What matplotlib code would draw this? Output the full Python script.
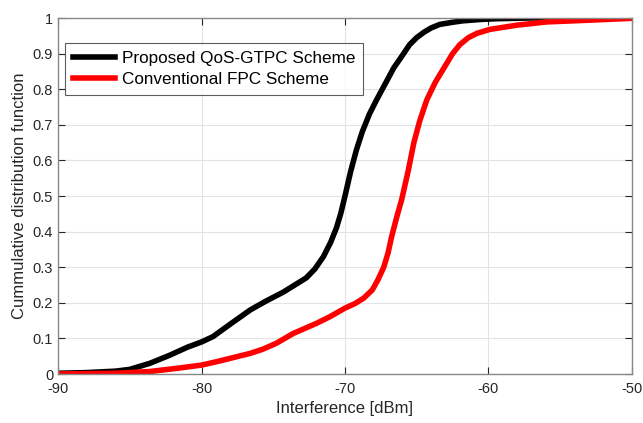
import numpy as np
import matplotlib.pyplot as plt

plt.rcParams['font.family'] = ['Liberation Sans', 'DejaVu Sans']
plt.rcParams['axes.unicode_minus'] = False

# Proposed QoS-GTPC Scheme (black)
x_prop = [-90, -88, -86, -85, -83.6, -82.2, -81, -80, -79.2, -78, -76.6, -75.5, -74.3,
          -73.5, -72.7, -72.1, -71.5, -71.0, -70.6, -70.3, -70.0, -69.6, -69.2, -68.8, -68.3,
          -67.8, -67.2, -66.6, -66.0, -65.5, -65.0, -64.5, -64.0, -63.4, -62.5, -61.8, -60.5,
          -59.4, -57.1, -55, -52.8]
y_prop = [0.002, 0.004, 0.008, 0.013, 0.03, 0.053, 0.075, 0.09, 0.105, 0.14, 0.18, 0.205, 0.23,
          0.25, 0.27, 0.295, 0.33, 0.37, 0.41, 0.45, 0.50, 0.57, 0.63, 0.68, 0.73,
          0.77, 0.815, 0.86, 0.895, 0.925, 0.945, 0.96, 0.972, 0.982, 0.988, 0.992, 0.996,
          0.998, 1.0, 1.0, 1.0]

# Conventional FPC Scheme (red)
x_conv = [-90, -88, -85.9, -83.6, -81.7, -80, -78.9, -77.7, -76.6, -75.7, -74.8, -73.6, -72,
          -71.05, -70.0, -69.3, -68.7, -68.1, -67.7, -67.3, -67.0, -66.75, -66.4, -66.05, -65.6,
          -65.2, -64.8, -64.3, -63.7, -63.1, -62.5, -62.0, -61.4, -60.8, -59.9, -58, -55.95,
          -52.9, -50.1]
y_conv = [0.0, 0.001, 0.002, 0.007, 0.016, 0.025, 0.035, 0.047, 0.058, 0.07, 0.086, 0.114, 0.142,
          0.161, 0.185, 0.198, 0.213, 0.236, 0.265, 0.30, 0.34, 0.386, 0.44, 0.49, 0.57,
          0.65, 0.71, 0.77, 0.82, 0.86, 0.90, 0.925, 0.945, 0.957, 0.968, 0.98, 0.989,
          0.994, 0.999]

fig = plt.figure(figsize=(6.43, 4.23), dpi=100)
ax = fig.add_axes([58 / 643, 1 - 374 / 423, (632 - 58) / 643, (374 - 18) / 423])

ax.plot(x_prop, y_prop, color='black', lw=4, label='Proposed QoS-GTPC Scheme')
ax.plot(x_conv, y_conv, color='red', lw=4, label='Conventional FPC Scheme')

ax.set_xlim(-90, -50)
ax.set_ylim(0, 1)
ax.set_xticks(np.arange(-90, -49, 10))
ax.set_yticks(np.arange(0, 1.01, 0.1))
ax.set_yticklabels(['0', '0.1', '0.2', '0.3', '0.4', '0.5', '0.6', '0.7', '0.8', '0.9', '1'])
ax.grid(True, color='#e3e3e3', lw=0.8)
ax.set_axisbelow(True)
ax.tick_params(direction='in', top=True, right=True, labelsize=10.5, colors='#262626',
               length=5, width=0.8)
ax.tick_params(axis='x', pad=6)
for s in ax.spines.values():
    s.set_color('#888888')
    s.set_linewidth(1.0)

ax.set_xlabel('Interference [dBm]', fontsize=12, color='#262626', labelpad=3)
ax.set_ylabel('Cummulative distribution function', fontsize=12, color='#262626', labelpad=4)

leg = ax.legend(loc='upper left', bbox_to_anchor=(0.012, 0.93), fontsize=12.3, frameon=True,
                fancybox=False, edgecolor='#333333', handlelength=2.5, borderpad=0.45,
                labelspacing=0.4, handletextpad=0.4, borderaxespad=0)
leg.get_frame().set_linewidth(0.8)

fig.savefig('out.png', dpi=100)
